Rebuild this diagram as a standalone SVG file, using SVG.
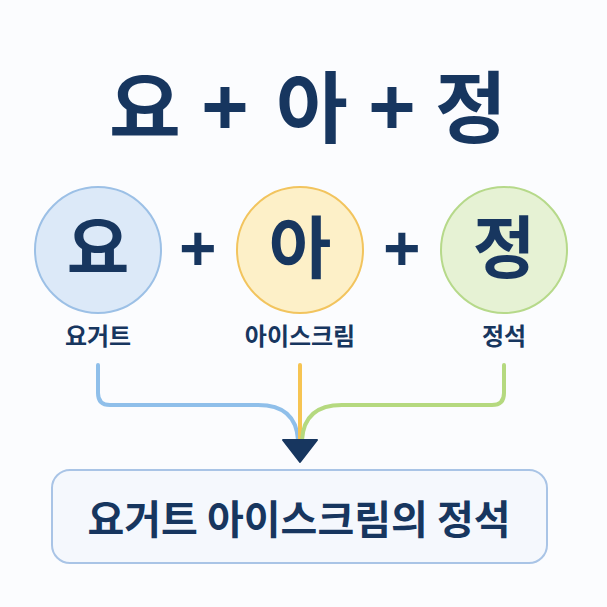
<svg xmlns="http://www.w3.org/2000/svg" width="607" height="607" viewBox="0 0 607 607">
  <style>
    .t { font-family: "Noto Sans CJK KR", "Noto Sans", sans-serif; font-weight: 700; fill: #17365f; text-anchor: middle; }
    .title { font-size: 78px; }
    .big { font-size: 68px; }
    .lbl { font-size: 24px; }
    .res { font-size: 40px; }
    .op { font-family: "Noto Sans", "DejaVu Sans", sans-serif; font-weight: 700; fill: #17365f; text-anchor: middle; }
    .conn { fill: none; stroke-width: 4; stroke-linecap: round; stroke-linejoin: round; }
  </style>
  <rect width="607" height="607" fill="#fbfcfe"/>

  <g id="title">
    <text class="t title" y="137"><tspan x="145">요</tspan><tspan class="op" x="225" font-size="84">+</tspan><tspan x="312">아</tspan><tspan class="op" x="392" font-size="84">+</tspan><tspan x="471">정</tspan></text>
  </g>

  <g id="connectors">
    <path class="conn" stroke="#8fbfea" d="M98,365 V393 Q98,405 110,405 H258 Q296,405 298,440"/>
    <path class="conn" stroke="#f6c453" d="M300,365 V440"/>
    <path class="conn" stroke="#b5d97f" d="M504,365 V393 Q504,405 492,405 H342 Q304,405 302,440"/>
    <path d="M283,440 L317,440 L300,462 Z" fill="#17365f" stroke="#17365f" stroke-width="2" stroke-linejoin="round"/>
  </g>

  <g id="node-yo">
    <circle cx="98" cy="250" r="63" fill="#dce9f8" stroke="#9cc0e6" stroke-width="2"/>
    <text class="t big" x="98" y="273">요</text>
    <text class="t lbl" x="98" y="345">요거트</text>
  </g>
  <g id="plus-1">
    <text class="op" x="198" y="272" font-size="66">+</text>
  </g>
  <g id="node-a">
    <circle cx="300" cy="250" r="63" fill="#fdf0c8" stroke="#f2c45e" stroke-width="2"/>
    <text class="t big" x="300" y="273">아</text>
    <text class="t lbl" x="300" y="345">아이스크림</text>
  </g>
  <g id="plus-2">
    <text class="op" x="402" y="272" font-size="66">+</text>
  </g>
  <g id="node-jeong">
    <circle cx="504" cy="250" r="63" fill="#e6f2d4" stroke="#b6d98a" stroke-width="2"/>
    <text class="t big" x="504" y="273">정</text>
    <text class="t lbl" x="504" y="345">정석</text>
  </g>

  <g id="result">
    <rect x="52" y="470" width="495" height="93" rx="18" fill="#f5f8fd" stroke="#a9c4e6" stroke-width="2"/>
    <text class="t res" x="299" y="534">요거트 아이스크림의 정석</text>
  </g>
</svg>
